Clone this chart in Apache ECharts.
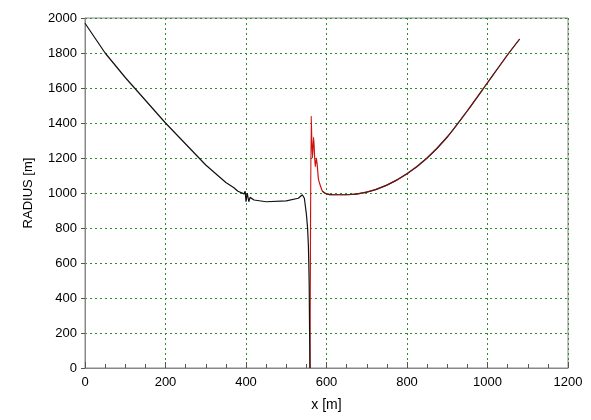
<!DOCTYPE html>
<html><head><meta charset="utf-8">
<script src="https://cdn.jsdelivr.net/npm/echarts@6/dist/echarts.min.js"></script>
<style>html,body{margin:0;background:#fff}#c{width:591px;height:420px}</style>
</head><body><div id="c"></div>
<script>
// black trace (x, radius)
var blackX = [0,50,100,150,200,250,300,330,350,370,380,395,398,400,403,407,410,420,450,500,530,540,545,550,553,555,556,557,558,559];
var blackY = [1970,1800,1660,1530,1400,1280,1160,1100,1060,1030,1010,995,1010,950,1000,950,975,960,950,955,970,990,970,880,800,700,600,480,200,0];
// red trace
var redX = [559,562,565,568,572,575,580,585,590,600,620,650,700,750,800,850,900,950,1000,1050,1080];
var redY = [0,1440,1200,1320,1150,1200,1080,1040,1010,995,990,990,1005,1045,1110,1200,1320,1470,1630,1790,1880];

function pairs(xs, ys) {
    var out = [];
    for (var i = 0; i < xs.length; ++i) out.push([xs[i], ys[i]]);
    return out;
}
function plain(v) { return String(v); }

var gridLine = { show: true, lineStyle: { color: '#2e8b2e', type: [2, 3], width: 1 } };
var font = { fontFamily: 'Arial, Liberation Sans', fontSize: 13, color: '#000' };
var myChart = echarts.init(document.getElementById('c'));
myChart.setOption({
    animation: false,
    grid: { left: 85, right: 23, top: 18, bottom: 52, show: true, borderColor: '#888', borderWidth: 1 },
    xAxis: {
        type: 'value', min: 0, max: 1200, interval: 200,
        name: 'x [m]', nameLocation: 'middle', nameGap: 30,
        nameTextStyle: { fontFamily: 'Arial, Liberation Sans', fontSize: 14, color: '#000' },
        axisLine: { lineStyle: { color: '#888' } },
        axisTick: { inside: true, length: 6, lineStyle: { color: '#555' } },
        minorTick: { show: true, splitNumber: 4, length: 4, lineStyle: { color: '#555' } },
        axisLabel: Object.assign({ formatter: plain }, font),
        splitLine: gridLine
    },
    yAxis: {
        type: 'value', min: 0, max: 2000, interval: 200,
        name: 'RADIUS [m]', nameLocation: 'middle', nameGap: 50,
        nameTextStyle: font,
        axisLine: { show: true, lineStyle: { color: '#888' } },
        axisTick: { show: true, length: 4, lineStyle: { color: '#555' } },
        axisLabel: Object.assign({ formatter: plain }, font),
        splitLine: gridLine
    },
    series: [
        { type: 'line', data: pairs(redX, redY), showSymbol: false, smooth: 0.2, lineStyle: { color: '#d01010', width: 1.2 } },
        { type: 'line', data: pairs(blackX, blackY), showSymbol: false, lineStyle: { color: '#111', width: 1.2 } },
        { type: 'line', data: pairs(redX.slice(8), redY.slice(8)), showSymbol: false, smooth: 0.3, lineStyle: { color: '#4a2020', width: 1.2 } }
    ]
});
</script></body></html>
